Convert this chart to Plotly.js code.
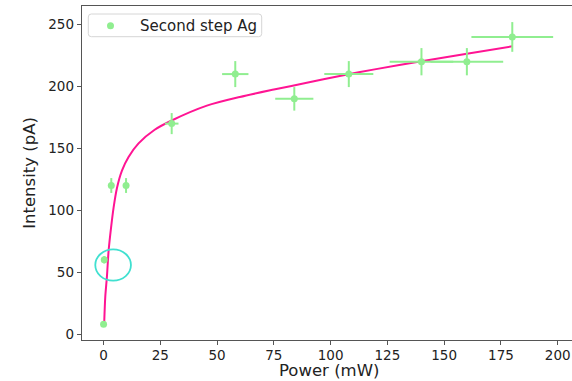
<!DOCTYPE html>
<html>
<head>
<meta charset="utf-8">
<script src="https://cdn.plot.ly/plotly-3.0.1.min.js"></script>
<style>
html, body { margin: 0; padding: 0; background: #fff; overflow: hidden; }
#chart { width: 572px; height: 381px; }
</style>
</head>
<body>
<div id="chart"></div>
<script>
// Measured data (Second step Ag)
const seriesName = 'Second step Ag';
const powerMW = [0, 0.3, 3.4, 9.9, 30, 58, 84, 108, 140, 160, 180];
const intensityPA = [8, 60, 120, 120, 170, 210, 190, 210, 220, 220, 240];
const powerErr = [0, 0.03, 0.34, 1.0, 3.0, 5.8, 8.4, 10.8, 14, 16, 18];
const intensityErr = [0.4, 3, 6, 6, 8.5, 10.5, 9.5, 10.5, 11, 11, 12];

// Fit curve
const fitX = [0.3, 0.75, 1.5, 2.2, 3.3, 4.4, 5.9, 8.1, 11, 15.4, 22.5, 30, 45.5, 60, 75, 89.5, 104, 120, 140, 160, 180];
const fitY = [10, 30, 47, 67, 86, 102, 118, 132, 143, 154, 165, 172.5, 184.5, 191.5, 197.5, 203, 208.5, 214, 220.3, 226.5, 232.4];

const xTicks = [0, 25, 50, 75, 100, 125, 150, 175, 200];
const yTicks = [0, 50, 100, 150, 200, 250];
const xTitle = 'Power (mW)';
const yTitle = 'Intensity (pA)';

const font = 'DejaVu Sans, Verdana, sans-serif';
const green = '#90ee90';

const traces = [
  {
    x: fitX, y: fitY, type: 'scatter', mode: 'lines',
    line: { color: '#ff1493', width: 2, shape: 'spline', smoothing: 0.8 },
    showlegend: false, hoverinfo: 'skip'
  },
  {
    x: powerMW, y: intensityPA, type: 'scatter', mode: 'markers',
    name: seriesName, showlegend: false,
    marker: { color: green, size: 7 },
    error_x: { type: 'data', array: powerErr, visible: true, color: green, thickness: 2, width: 0 },
    error_y: { type: 'data', array: intensityErr, visible: true, color: green, thickness: 2, width: 0 }
  }
];

// legend box (paper coords), rounded corners
const W = 490, H = 334;
const lx0 = 6.3 / W, lx1 = 179.7 / W, ly1 = 1 - 8 / H, ly0 = 1 - 30.7 / H;
const rx = 3 / W, ry = 3 / H;
const boxPath = `M ${lx0 + rx} ${ly1} L ${lx1 - rx} ${ly1} Q ${lx1} ${ly1} ${lx1} ${ly1 - ry} ` +
  `L ${lx1} ${ly0 + ry} Q ${lx1} ${ly0} ${lx1 - rx} ${ly0} L ${lx0 + rx} ${ly0} ` +
  `Q ${lx0} ${ly0} ${lx0} ${ly0 + ry} L ${lx0} ${ly1 - ry} Q ${lx0} ${ly1} ${lx0 + rx} ${ly1} Z`;
const legendY = 1 - 19.7 / H;

const layout = {
  width: 572, height: 381,
  margin: { l: 82, r: 0, t: 6, b: 41 },
  paper_bgcolor: '#fff', plot_bgcolor: '#fff',
  font: { family: font, color: '#222', size: 13.5 },
  showlegend: false,
  xaxis: {
    range: [-9.5, 206.3],
    tickvals: xTicks, ticktext: xTicks.map(String),
    showgrid: false, zeroline: false,
    showline: true, linecolor: '#555', linewidth: 1.3, mirror: true,
    ticks: 'outside', ticklen: 4, tickcolor: '#555', tickwidth: 1,
    ticklabelstandoff: -2,
    tickfont: { family: font, size: 13.5, color: '#222' }
  },
  yaxis: {
    range: [-4.8, 265],
    tickvals: yTicks, ticktext: yTicks.map(String),
    showgrid: false, zeroline: false,
    showline: true, linecolor: '#555', linewidth: 1.3, mirror: false,
    ticks: 'outside', ticklen: 4, tickcolor: '#555', tickwidth: 1,
    tickfont: { family: font, size: 13.5, color: '#222' },
    title: { text: yTitle, font: { family: font, size: 16.5, color: '#222' }, standoff: 8 }
  },
  shapes: [
    {
      type: 'circle', xref: 'x', yref: 'y',
      x0: -3.65, x1: 12.06, y0: 43.1, y1: 68.4,
      line: { color: '#40e0d0', width: 1.8 }, fillcolor: 'rgba(0,0,0,0)'
    },
    {
      type: 'path', xref: 'paper', yref: 'paper', path: boxPath,
      fillcolor: 'rgba(255,255,255,0.8)', line: { color: '#d6d6d6', width: 1 }
    },
    {
      type: 'circle', xref: 'paper', yref: 'paper',
      xsizemode: 'pixel', ysizemode: 'pixel',
      xanchor: 28.5 / W, yanchor: legendY,
      x0: -3.5, x1: 3.5, y0: -3.5, y1: 3.5,
      fillcolor: green, line: { width: 0 }
    }
  ],
  annotations: [
    {
      xref: 'paper', yref: 'paper', x: 56.3 / W, y: legendY,
      xanchor: 'left', yanchor: 'middle', showarrow: false,
      text: seriesName, font: { family: font, size: 15, color: '#222' }
    },
    {
      xref: 'paper', yref: 'paper', x: 247 / W, y: -40.8 / H,
      xanchor: 'center', yanchor: 'bottom', showarrow: false, borderpad: 0,
      text: xTitle, font: { family: font, size: 16.5, color: '#222' }
    }
  ]
};

Plotly.newPlot('chart', traces, layout, { staticPlot: true, displayModeBar: false });
</script>
</body>
</html>
